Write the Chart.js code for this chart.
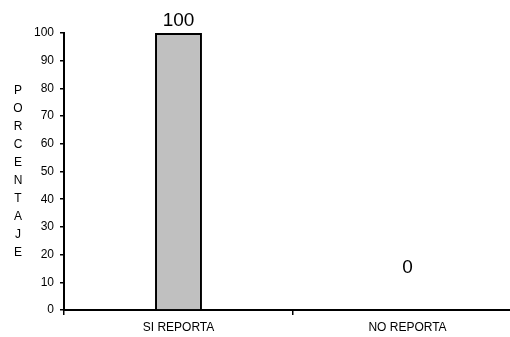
<!DOCTYPE html>
<html><head><meta charset="utf-8">
<script src="https://cdn.jsdelivr.net/npm/chart.js@4/dist/chart.umd.min.js"></script>
<style>
html,body{margin:0;padding:0;background:#fff;overflow:hidden;width:510px;height:337px;}
#wrap{width:525px;height:337px;position:relative;}
</style></head><body>
<div id="wrap"><canvas id="c"></canvas></div>
<script>
const categories = ["SI REPORTA", "NO REPORTA"];
const porcentaje = [100, 0];
const yTicks = [0, 10, 20, 30, 40, 50, 60, 70, 80, 90, 100];
const yTitle = "PORCENTAJE";

const FONT = "'Liberation Sans', Arial, sans-serif";

const labelPlugin = {
  id: 'labels',
  afterDatasetsDraw(chart) {
    const ctx = chart.ctx;
    const meta = chart.getDatasetMeta(0);
    ctx.save();
    ctx.fillStyle = '#000';
    ctx.font = '19px ' + FONT;
    ctx.textAlign = 'center';
    ctx.textBaseline = 'alphabetic';
    meta.data.forEach((bar, i) => {
      const v = porcentaje[i];
      const off = v === 0 ? 37 : 7;
      ctx.fillText(String(v), bar.x, bar.y - off);
    });
    ctx.restore();
  }
};

const vTitlePlugin = {
  id: 'vtitle',
  afterDraw(chart) {
    const ctx = chart.ctx;
    ctx.save();
    ctx.fillStyle = '#000';
    ctx.font = '12px ' + FONT;
    ctx.textAlign = 'center';
    ctx.textBaseline = 'middle';
    const letters = yTitle.split('');
    const step = 18;
    const cy = (chart.chartArea.top + chart.chartArea.bottom) / 2;
    const start = cy - (letters.length - 1) * step / 2;
    letters.forEach((ch, i) => ctx.fillText(ch, 18, start + i * step));
    ctx.restore();
  }
};

new Chart(document.getElementById('c'), {
  type: 'bar',
  data: {
    labels: categories,
    datasets: [{
      data: porcentaje,
      backgroundColor: '#c0c0c0',
      borderColor: '#000',
      borderWidth: 2,
      borderSkipped: 'bottom',
      barPercentage: 0.41,
      categoryPercentage: 0.5
    }]
  },
  options: {
    responsive: true,
    maintainAspectRatio: false,
    animation: false,
    layout: { padding: { top: 33, right: 3, left: 0, bottom: 0 } },
    plugins: { legend: { display: false }, tooltip: { enabled: false } },
    scales: {
      x: {
        grid: { display: true, drawOnChartArea: false, drawTicks: true, tickLength: 5, color: '#000', lineWidth: 1.5, offset: true },
        border: { display: true, color: '#000', width: 2 },
        ticks: { color: '#000', font: { family: FONT, size: 12 }, padding: 5, maxRotation: 0 },
        afterFit(s) { s.height = 27; }
      },
      y: {
        min: 0, max: 100,
        afterBuildTicks(s) { s.ticks = yTicks.map(v => ({ value: v })); },
        grid: { display: true, drawOnChartArea: false, drawTicks: true, tickLength: 4, color: '#000', lineWidth: 1.5 },
        border: { display: true, color: '#000', width: 2 },
        ticks: { color: '#000', font: { family: FONT, size: 12 }, padding: 6 },
        afterFit(s) { s.width = 64; }
      }
    }
  },
  plugins: [labelPlugin, vTitlePlugin]
});
</script>
</body></html>
